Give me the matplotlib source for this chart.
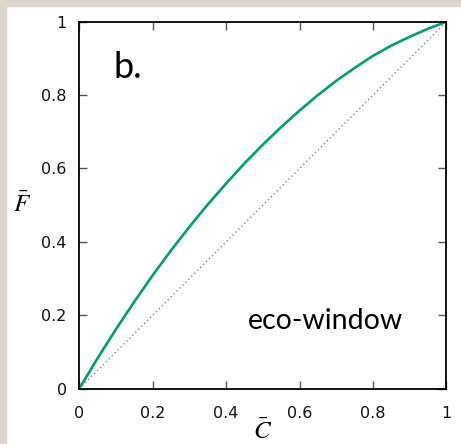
import numpy as np
import matplotlib
matplotlib.use("Agg")
import matplotlib.pyplot as plt
from matplotlib.patches import Rectangle

# values
c_bar = [0.0, 0.05, 0.1, 0.15, 0.2, 0.25, 0.3, 0.35, 0.4, 0.45, 0.5,
         0.55, 0.6, 0.65, 0.7, 0.75, 0.8, 0.85, 0.9, 0.95, 1.0]
f_bar = [0.0, 0.083, 0.162, 0.237, 0.309, 0.377, 0.441, 0.502, 0.559, 0.614, 0.665,
         0.713, 0.758, 0.8, 0.839, 0.874, 0.907, 0.935, 0.959, 0.981, 1.0]
diag = [0.0, 1.0]
ticks = [0, 0.2, 0.4, 0.6, 0.8, 1]
tick_labels = ["0", "0.2", "0.4", "0.6", "0.8", "1"]

plt.rcParams['mathtext.fontset'] = 'stix'

fig = plt.figure(figsize=(4.61, 4.44), dpi=100)
# beige frame strips at top and left
fig.patches.append(Rectangle((0, 0), 6 / 461, 1, transform=fig.transFigure,
                             color='#ddd6ce', zorder=0))
fig.patches.append(Rectangle((0, 1 - 6 / 444), 1, 6 / 444, transform=fig.transFigure,
                             color='#ddd6ce', zorder=0))

ax = fig.add_axes([0.172, 0.1248, 0.7964, 0.8263])
ax.plot(diag, diag, color='#888888', lw=1.0, ls=(0, (1, 2)))
ax.plot(c_bar, f_bar, color='#009e73', lw=1.9)

ax.set_xlim(0, 1)
ax.set_ylim(0, 1)
ax.set_xticks(ticks)
ax.set_xticklabels(tick_labels)
ax.set_yticks(ticks)
ax.set_yticklabels(tick_labels)
ax.tick_params(direction='in', length=6, width=1, color='#555555',
               top=True, right=True, labelsize=11.5, labelcolor='#111111')
ax.tick_params(axis='x', pad=12.5)
ax.tick_params(axis='y', pad=9)
for s in ax.spines.values():
    s.set_linewidth(1.3)

ax.set_xlabel(r'$\bar{C}$', fontsize=18, labelpad=-1)
ax.set_ylabel(r'$\bar{F}$', fontsize=18, rotation=0, labelpad=14, va='center')

ax.text(0.092, 0.847, 'b.', fontsize=26, family='Lato')
ax.text(0.459, 0.162, 'eco-window', fontsize=20.5, family='Lato')

fig.savefig('out.png', dpi=100)
